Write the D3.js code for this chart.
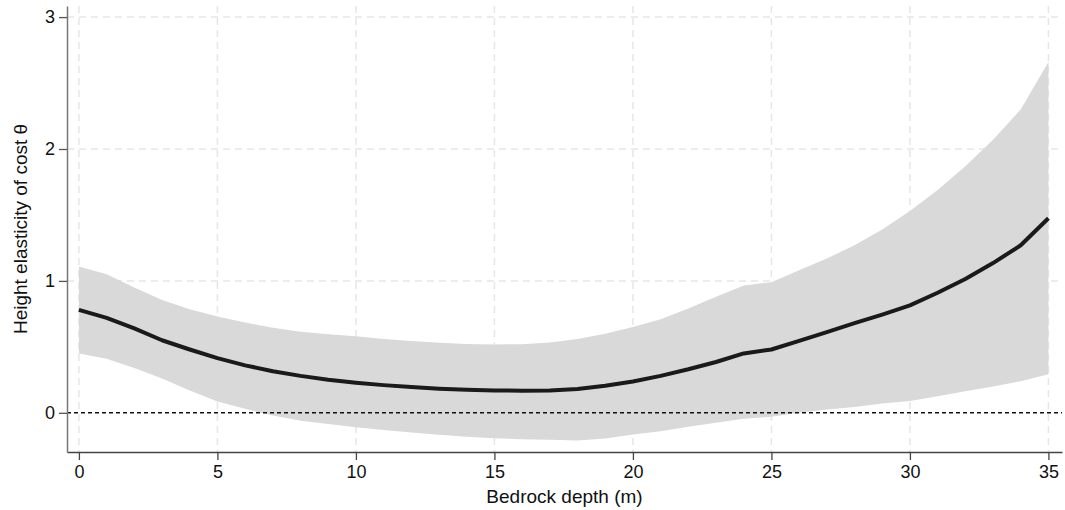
<!DOCTYPE html>
<html><head><meta charset="utf-8">
<script src="https://cdn.jsdelivr.net/npm/d3@7"></script>
<style>body{margin:0;background:#fff}svg{display:block}text{font-family:"Liberation Sans",Arial,sans-serif}</style>
</head><body><svg id="c" width="1065" height="510"></svg>
<script>
const depth = d3.range(0, 36);
const estimate = [0.78,0.72,0.64,0.55,0.48,0.415,0.36,0.315,0.28,0.25,0.228,0.21,0.195,0.183,0.175,0.17,0.168,0.17,0.18,0.205,0.238,0.28,0.33,0.385,0.45,0.48,0.545,0.612,0.68,0.745,0.815,0.91,1.015,1.135,1.27,1.475];
const upper = [1.11,1.05,0.95,0.855,0.785,0.73,0.685,0.645,0.615,0.595,0.58,0.56,0.545,0.532,0.522,0.518,0.52,0.533,0.56,0.6,0.65,0.71,0.79,0.88,0.965,0.99,1.08,1.17,1.27,1.39,1.53,1.69,1.87,2.07,2.3,2.66];
const lower = [0.45,0.41,0.34,0.26,0.17,0.085,0.03,-0.02,-0.06,-0.085,-0.11,-0.13,-0.15,-0.167,-0.182,-0.193,-0.2,-0.205,-0.21,-0.195,-0.165,-0.14,-0.105,-0.075,-0.045,-0.03,0.0,0.025,0.045,0.07,0.09,0.125,0.163,0.2,0.24,0.292];
const xTicks = [0,5,10,15,20,25,30,35];
const yTicks = [0,1,2,3];
const xTitle = "Bedrock depth (m)";
const yTitle = "Height elasticity of cost θ";

const svg = d3.select("#c");
const L = 67, R = 1062, T = 6, B = 452;
const x = d3.scaleLinear().domain([-0.43, 35.49]).range([L, R]);
const y = d3.scaleLinear().domain([-0.297, 3.084]).range([B, T]);

// grid
svg.append("g").selectAll("line").data(xTicks).join("line")
  .attr("x1", d => x(d)).attr("x2", d => x(d)).attr("y1", T).attr("y2", B)
  .attr("stroke", "#e6e6e6").attr("stroke-width", 1.5).attr("stroke-dasharray", "7,5");
svg.append("g").selectAll("line").data(yTicks.filter(d => d !== 0)).join("line")
  .attr("x1", L).attr("x2", R).attr("y1", d => y(d)).attr("y2", d => y(d))
  .attr("stroke", "#e6e6e6").attr("stroke-width", 1.5).attr("stroke-dasharray", "7,5");

const data = depth.map((d, i) => ({d, e: estimate[i], u: upper[i], l: lower[i]}));
svg.append("path").datum(data)
  .attr("d", d3.area().x(d => x(d.d)).y0(d => y(d.l)).y1(d => y(d.u)))
  .attr("fill", "#d9d9d9");

// zero line
svg.append("line").attr("x1", L).attr("x2", R).attr("y1", y(0)).attr("y2", y(0))
  .attr("stroke", "#111").attr("stroke-width", 1.5).attr("stroke-dasharray", "4,3");

svg.append("path").datum(data)
  .attr("d", d3.line().x(d => x(d.d)).y(d => y(d.e)))
  .attr("fill", "none").attr("stroke", "#1a1a1a").attr("stroke-width", 4).attr("stroke-linejoin", "round");

// axes
const gx = svg.append("g").attr("transform", `translate(0,${B})`)
  .call(d3.axisBottom(x).tickValues(xTicks).tickFormat(d3.format("d")).tickSize(8).tickPadding(5).tickSizeOuter(0));
gx.select(".domain").attr("stroke", "#444").attr("stroke-width", 1.5);
gx.selectAll(".tick line").attr("stroke", "#444").attr("stroke-width", 1.3);
gx.selectAll("text").attr("font-size", 18).attr("fill", "#111").attr("font-family", '"Liberation Sans",Arial,sans-serif');

const gy = svg.append("g").attr("transform", `translate(${L},0)`)
  .call(d3.axisLeft(y).tickValues(yTicks).tickFormat(d3.format("d")).tickSize(8).tickPadding(4).tickSizeOuter(0));
gy.select(".domain").attr("stroke", "#777").attr("stroke-width", 1.5);
gy.selectAll(".tick line").attr("stroke", "#555").attr("stroke-width", 1.3);
gy.selectAll("text").attr("font-size", 18).attr("fill", "#111").attr("font-family", '"Liberation Sans",Arial,sans-serif');

svg.append("text").attr("x", (L + R) / 2).attr("y", 503).attr("text-anchor", "middle")
  .attr("font-size", 19).attr("fill", "#111").text(xTitle);
svg.append("text").attr("transform", `translate(27,${(T + B) / 2}) rotate(-90)`).attr("text-anchor", "middle")
  .attr("font-size", 19).attr("fill", "#111").text(yTitle);
</script></body></html>
